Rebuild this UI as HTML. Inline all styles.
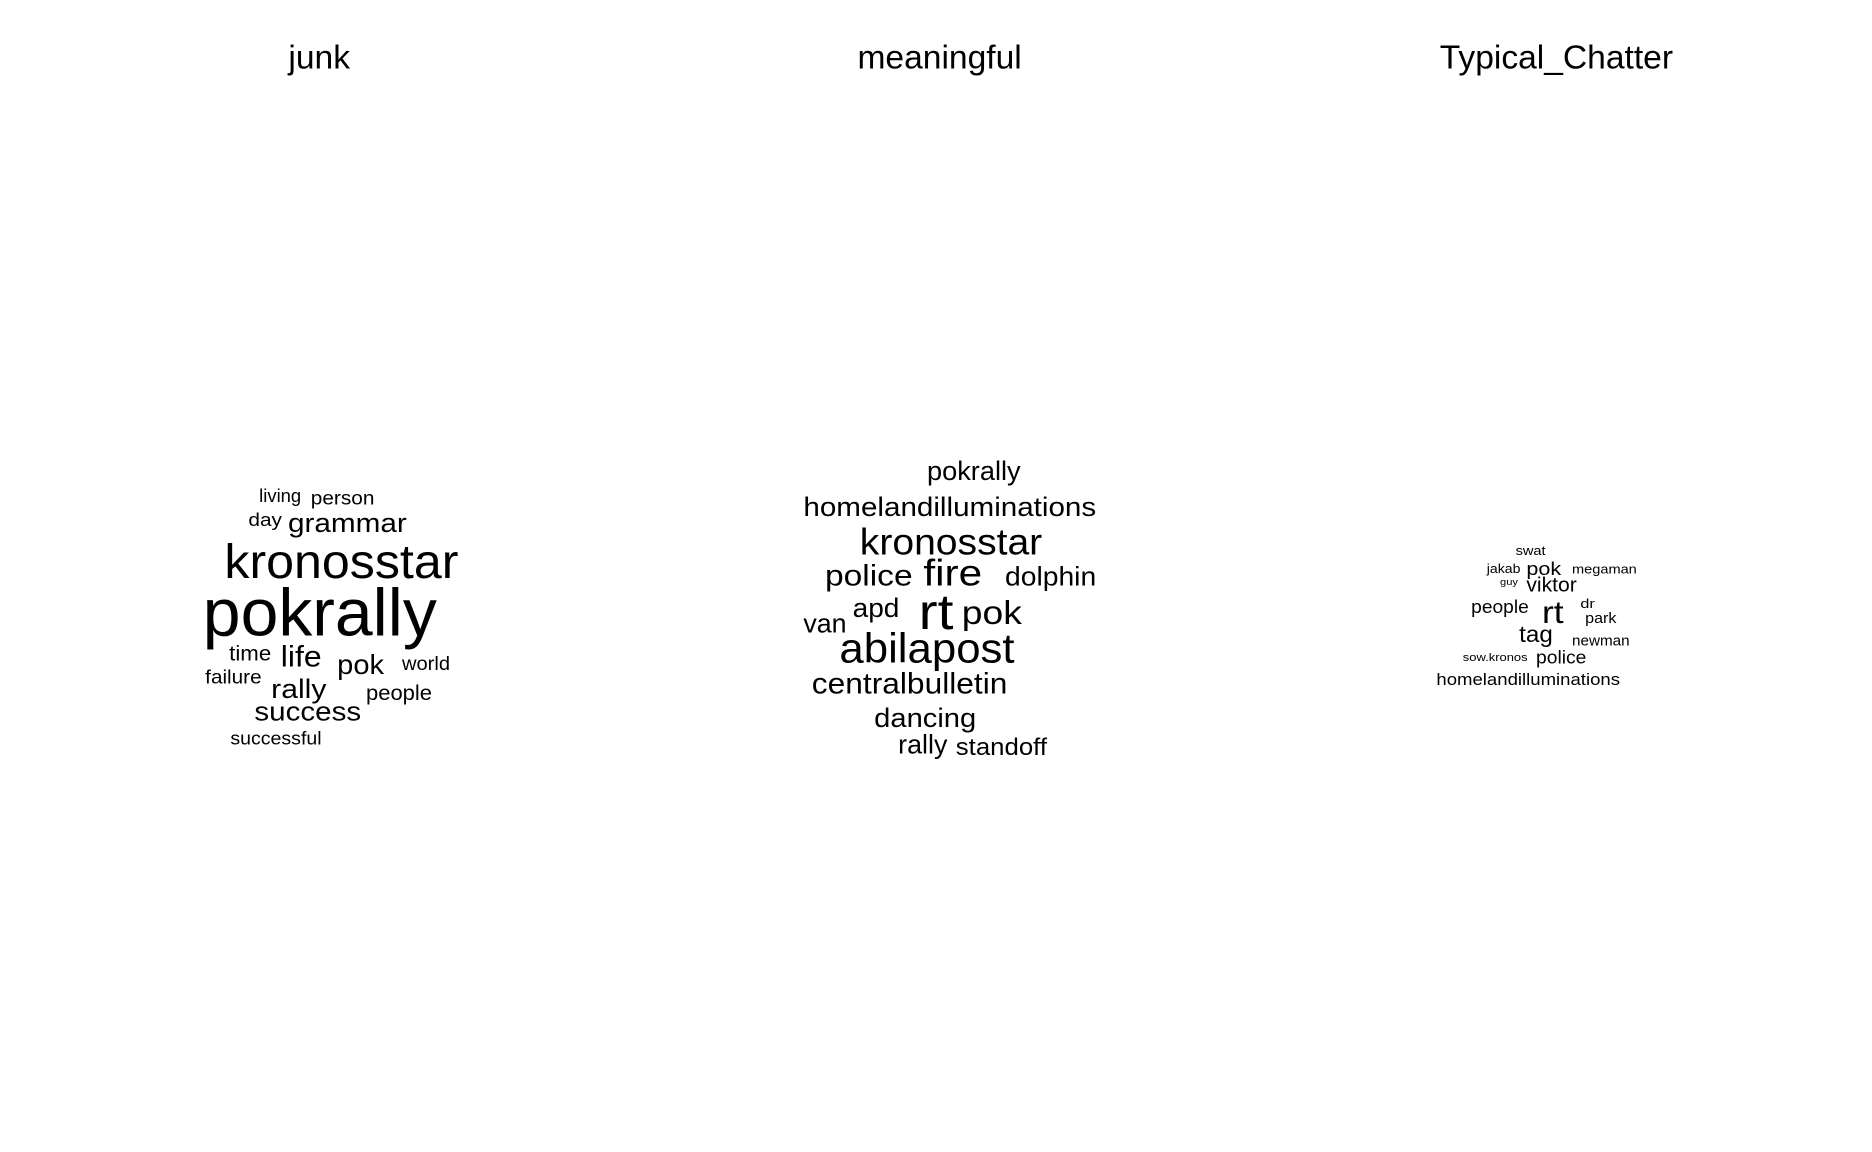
<!DOCTYPE html>
<html><head><meta charset="utf-8"><style>
html,body{margin:0;padding:0;background:#fff}
svg{display:block}
text{font-family:"Liberation Sans",Arial,sans-serif;fill:#000}
</style></head><body>
<svg id="chart" width="1872" height="1152" viewBox="0 0 1872 1152"></svg>
<script>
const S = 1.2;
const panelTitles = ["junk","meaningful","Typical_Chatter"];
const titleCenters = [266,783,1297];
// words: [word, left, right, baseline, fontSize] (reference units)
const junkWords = [
["living",217,252,421,15],["person",260,313,423,16],["day",208,236,441,15],
["grammar",241,340,446,22],["kronosstar",188,383,484,40],["pokrally",170,365,532,56],
["time",192,227,553,18],["life",235,269,558,25],["pok",282,321,564,23],
["world",336,376,561,16],["failure",172,219,572,16],["rally",227,273,584,22],
["people",306,361,586,18],["success",213,302,603,22],["successful",193,269,623,15]];
const meaningfulWords = [
["pokrally",776,854,402,22],["homelandilluminations",673,917,432,22],
["kronosstar",720,872,464,31],["police",691,764,490,25],["fire",773,822,490,31],
["dolphin",841,917,490,22],["van",673,709,529,22],["apd",714,753,516,22],
["rt",769,798,526,42],["pok",805,855,522,28],["abilapost",703,849,554,35],
["centralbulletin",680,843,580,25],["dancing",732,817,608,22],
["rally",752,793,630,22],["standoff",800,876,631,20]];
const chatterWords = [
["swat",1263,1288,462.5,11],["jakab",1239,1267,477.5,11],["pok",1272,1301,479,15],
["megaman",1310,1364,478,11],["guy",1250,1265,487.5,8],["viktor",1272,1314,493,17],
["people",1226,1274,511,15],["rt",1285,1303,519,26],["dr",1317,1329,506.5,11],
["park",1321,1347,519,12],["tag",1266,1294,535,19],["newman",1310,1358,538,12],
["sow.kronos",1219,1273,551,9],["police",1280,1322,553,15],
["homelandilluminations",1197,1350,571,14]];
const panelShift = {junk:[-1,-2.5], meaningful:[-3.5,-2], chatter:[0,0]};
const NS="http://www.w3.org/2000/svg";
const svg=document.getElementById('chart');
panelTitles.forEach((t,i)=>{
  const el=document.createElementNS(NS,'text');
  el.setAttribute('x',titleCenters[i]*S);el.setAttribute('y',57*S);
  el.setAttribute('text-anchor','middle');el.setAttribute('font-size',28*S);
  el.textContent=t;
  
  
  svg.appendChild(el);
});
[["junk",junkWords],["meaningful",meaningfulWords],["chatter",chatterWords]].forEach(([p,words])=>{
  const g=document.createElementNS(NS,'g');
  
  
  svg.appendChild(g);
  const sh=panelShift[p];
  words.forEach(w=>{
    const el=document.createElementNS(NS,'text');
    el.setAttribute('x',(w[1]+sh[0])*S);el.setAttribute('y',(w[3]+sh[1])*S);
    el.setAttribute('font-size',w[4]*S);
    el.setAttribute('textLength',(w[2]-w[1])*S);
    el.setAttribute('lengthAdjust','spacingAndGlyphs');
    el.textContent=w[0];
    
    
    g.appendChild(el);
  });
});
</script>
</body></html>
